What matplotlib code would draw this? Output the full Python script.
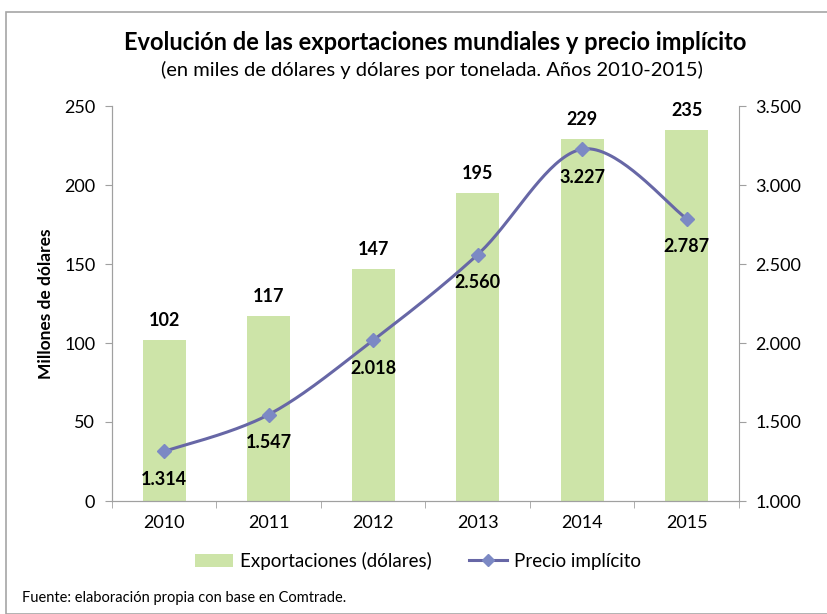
import numpy as np
import matplotlib
matplotlib.use("Agg")
import matplotlib.pyplot as plt
from matplotlib.patches import Rectangle, Patch
from matplotlib.lines import Line2D

years = ["2010", "2011", "2012", "2013", "2014", "2015"]
exports = [102, 117, 147, 195, 229, 235]
price = [1314, 1547, 2018, 2560, 3227, 2787]
price_labels = ["1.314", "1.547", "2.018", "2.560", "3.227", "2.787"]
left_ticks = [0, 50, 100, 150, 200, 250]
right_ticks = [1000, 1500, 2000, 2500, 3000, 3500]
right_tick_labels = ["1.000", "1.500", "2.000", "2.500", "3.000", "3.500"]

plt.rcParams['font.family'] = ['Lato', 'DejaVu Sans']

fig = plt.figure(figsize=(8.28, 6.14), dpi=100)
fig.patches.append(Rectangle((6/828, 0), 1, 1 - 12/614, transform=fig.transFigure,
                             fill=False, edgecolor='#A6A6A6', linewidth=1.2))

ax = fig.add_axes([112/828, 1 - 501/614, (739 - 112)/828, (501 - 106)/614])
ax2 = ax.twinx()

x = np.arange(len(years))
bar_color = '#CDE4A8'
line_color = '#6767A6'
marker_color = '#7C89C4'
axis_grey = '#A0A0A0'

ax.bar(x, exports, width=0.41, color=bar_color, zorder=1)
ax.set_xlim(-0.5, len(years) - 0.5)
ax.set_ylim(0, 250)
ax.set_yticks(left_ticks)
ax.set_yticklabels([str(t) for t in left_ticks], fontsize=13)
ax.set_xticks(x)
ax.set_xticklabels(years, fontsize=13)
ax.set_xticks(np.arange(-0.5, len(years)), minor=True)
ax.tick_params(axis='x', which='major', length=0, pad=10)
ax.tick_params(axis='x', which='minor', length=5, color=axis_grey, direction='out')
ax.tick_params(axis='y', length=5, color=axis_grey, pad=7)
for v, xi in zip(exports, x):
    ax.annotate(str(v), (xi, v), xytext=(0, 8), textcoords='offset points',
                ha='center', va='bottom', fontsize=13, fontweight='bold')
ax.set_ylabel("Millones de dólares", fontsize=12.5, fontweight='bold', labelpad=7)

for s in ['top']:
    ax.spines[s].set_visible(False)
    ax2.spines[s].set_visible(False)
for s in ['left', 'bottom', 'right']:
    ax.spines[s].set_color(axis_grey)
    ax2.spines[s].set_color(axis_grey)
ax.spines['right'].set_visible(False)

# smooth line (Bezier rendering through the data points, like a smoothed Excel line)
px = x.astype(float)
py = np.array(price, dtype=float)
sx, sy = [], []
n = len(px)
for i in range(n - 1):
    p0 = np.array([px[max(i - 1, 0)], py[max(i - 1, 0)]])
    p1 = np.array([px[i], py[i]])
    p2 = np.array([px[i + 1], py[i + 1]])
    p3 = np.array([px[min(i + 2, n - 1)], py[min(i + 2, n - 1)]])
    c1 = p1 + (p2 - p0) / 6.0
    c2 = p2 - (p3 - p1) / 6.0
    t = np.linspace(0, 1, 40)[:, None]
    seg = ((1 - t) ** 3) * p1 + 3 * ((1 - t) ** 2) * t * c1 + 3 * (1 - t) * t ** 2 * c2 + t ** 3 * p2
    sx.extend(seg[:, 0]); sy.extend(seg[:, 1])
ax2.plot(sx, sy, color=line_color, linewidth=2.2, zorder=3)
ax2.plot(px, py, linestyle='none', marker='D', markersize=7, color=marker_color, zorder=4)
for xi, v, lab in zip(px, py, price_labels):
    ax2.annotate(lab, (xi, v), xytext=(0, -14), textcoords='offset points',
                 ha='center', va='top', fontsize=13, fontweight='bold')
ax2.set_ylim(1000, 3500)
ax2.set_yticks(right_ticks)
ax2.set_yticklabels(right_tick_labels, fontsize=13)
ax2.tick_params(axis='y', length=5, color=axis_grey, pad=7)

fig.text(0.525, 1 - 42/614, "Evolución de las exportaciones mundiales y precio implícito",
         ha='center', va='center', fontsize=17, fontweight='bold')
fig.text(0.522, 1 - 70/614, "(en miles de dólares y dólares por tonelada. Años 2010-2015)",
         ha='center', va='center', fontsize=14.5)

handles = [Patch(facecolor=bar_color, edgecolor='none'),
           Line2D([0], [0], color=line_color, linewidth=2.2, marker='D', markersize=6,
                  markerfacecolor=marker_color, markeredgecolor=marker_color)]
fig.legend(handles, ["Exportaciones (dólares)", "Precio implícito"], loc='center',
           bbox_to_anchor=(0.505, 1 - 561/614), ncol=2, frameon=False, fontsize=13.5,
           columnspacing=2.0, handlelength=2.0, handletextpad=0.4)

fig.text(22/828, 1 - 598/614, "Fuente: elaboración propia con base en Comtrade.",
         ha='left', va='center', fontsize=10.5)

fig.savefig("out.png", dpi=100)
